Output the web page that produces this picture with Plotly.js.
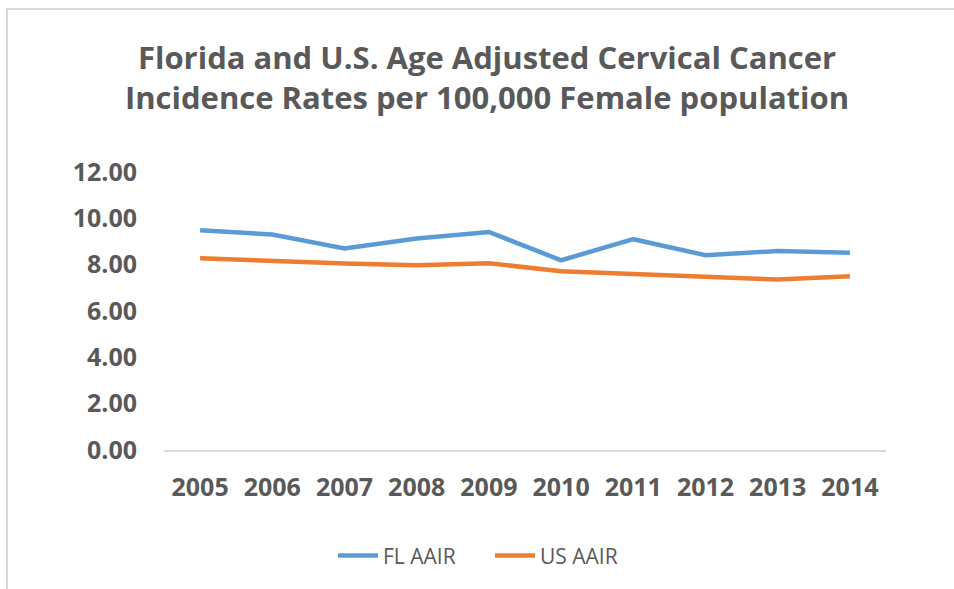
<!DOCTYPE html>
<html>
<head>
<meta charset="utf-8">
<script src="https://cdn.plot.ly/plotly-3.0.1.min.js"></script>
<style>
  html, body { margin: 0; padding: 0; background: #fff; }
  #frame { position: absolute; left: 6px; top: 8px; width: 960px; height: 600px;
           border-left: 2px solid #d9d9d9; border-top: 2px solid #d9d9d9; box-sizing: border-box; }
  #chart { position: absolute; left: 0; top: 0; width: 954px; height: 589px; }
</style>
</head>
<body>
<div id="frame"></div>
<div id="chart"></div>
<script>
const years = ["2005","2006","2007","2008","2009","2010","2011","2012","2013","2014"];
const flAAIR = [9.49, 9.30, 8.70, 9.13, 9.41, 8.19, 9.10, 8.41, 8.59, 8.51];
const usAAIR = [8.28, 8.16, 8.05, 7.98, 8.06, 7.72, 7.59, 7.47, 7.36, 7.50];
const yTicks = [0, 2, 4, 6, 8, 10, 12];

const gray = "#595959";
const fontFam = "'Open Sans', 'Noto Sans', sans-serif";

const traces = [
  { x: years, y: flAAIR, name: "FL AAIR", type: "scatter", mode: "lines",
    line: { color: "#5B9BD5", width: 4.5, shape: "linear" } },
  { x: years, y: usAAIR, name: "US AAIR", type: "scatter", mode: "lines",
    line: { color: "#ED7D31", width: 4.5, shape: "linear" } }
];

const layout = {
  width: 954, height: 589,
  paper_bgcolor: "rgba(0,0,0,0)", plot_bgcolor: "rgba(0,0,0,0)",
  margin: { l: 164, r: 68, t: 172, b: 139 },
  title: {
    text: "Florida and U.S. Age Adjusted Cervical Cancer<br>Incidence Rates per 100,000 Female population",
    font: { family: fontFam, size: 31, color: gray, weight: 700 },
    xref: "container", x: 0.5105, xanchor: "center",
    yref: "container", y: 0.883, yanchor: "middle"
  },
  xaxis: {
    type: "category", range: [-0.5, years.length - 0.5],
    showgrid: false, zeroline: false,
    showline: true, linecolor: "#d9d9d9", linewidth: 1.5,
    ticks: "", ticklabelstandoff: 14,
    tickfont: { family: fontFam, size: 25, color: gray, weight: 700 }
  },
  yaxis: {
    range: [0, 12], tickvals: yTicks, tickformat: ".2f",
    showgrid: false, zeroline: false, showline: false,
    ticks: "", ticklabelstandoff: 26,
    tickfont: { family: fontFam, size: 25, color: gray, weight: 700 }
  },
  showlegend: true,
  legend: {
    orientation: "h", x: 0.4515, xanchor: "center", y: -0.381, yanchor: "middle",
    font: { family: fontFam, size: 21, color: gray },
    itemwidth: 40, tracegroupgap: 0, entrywidth: 102
  }
};

Plotly.newPlot("chart", traces, layout, { displayModeBar: false, staticPlot: true });
</script>
</body>
</html>
